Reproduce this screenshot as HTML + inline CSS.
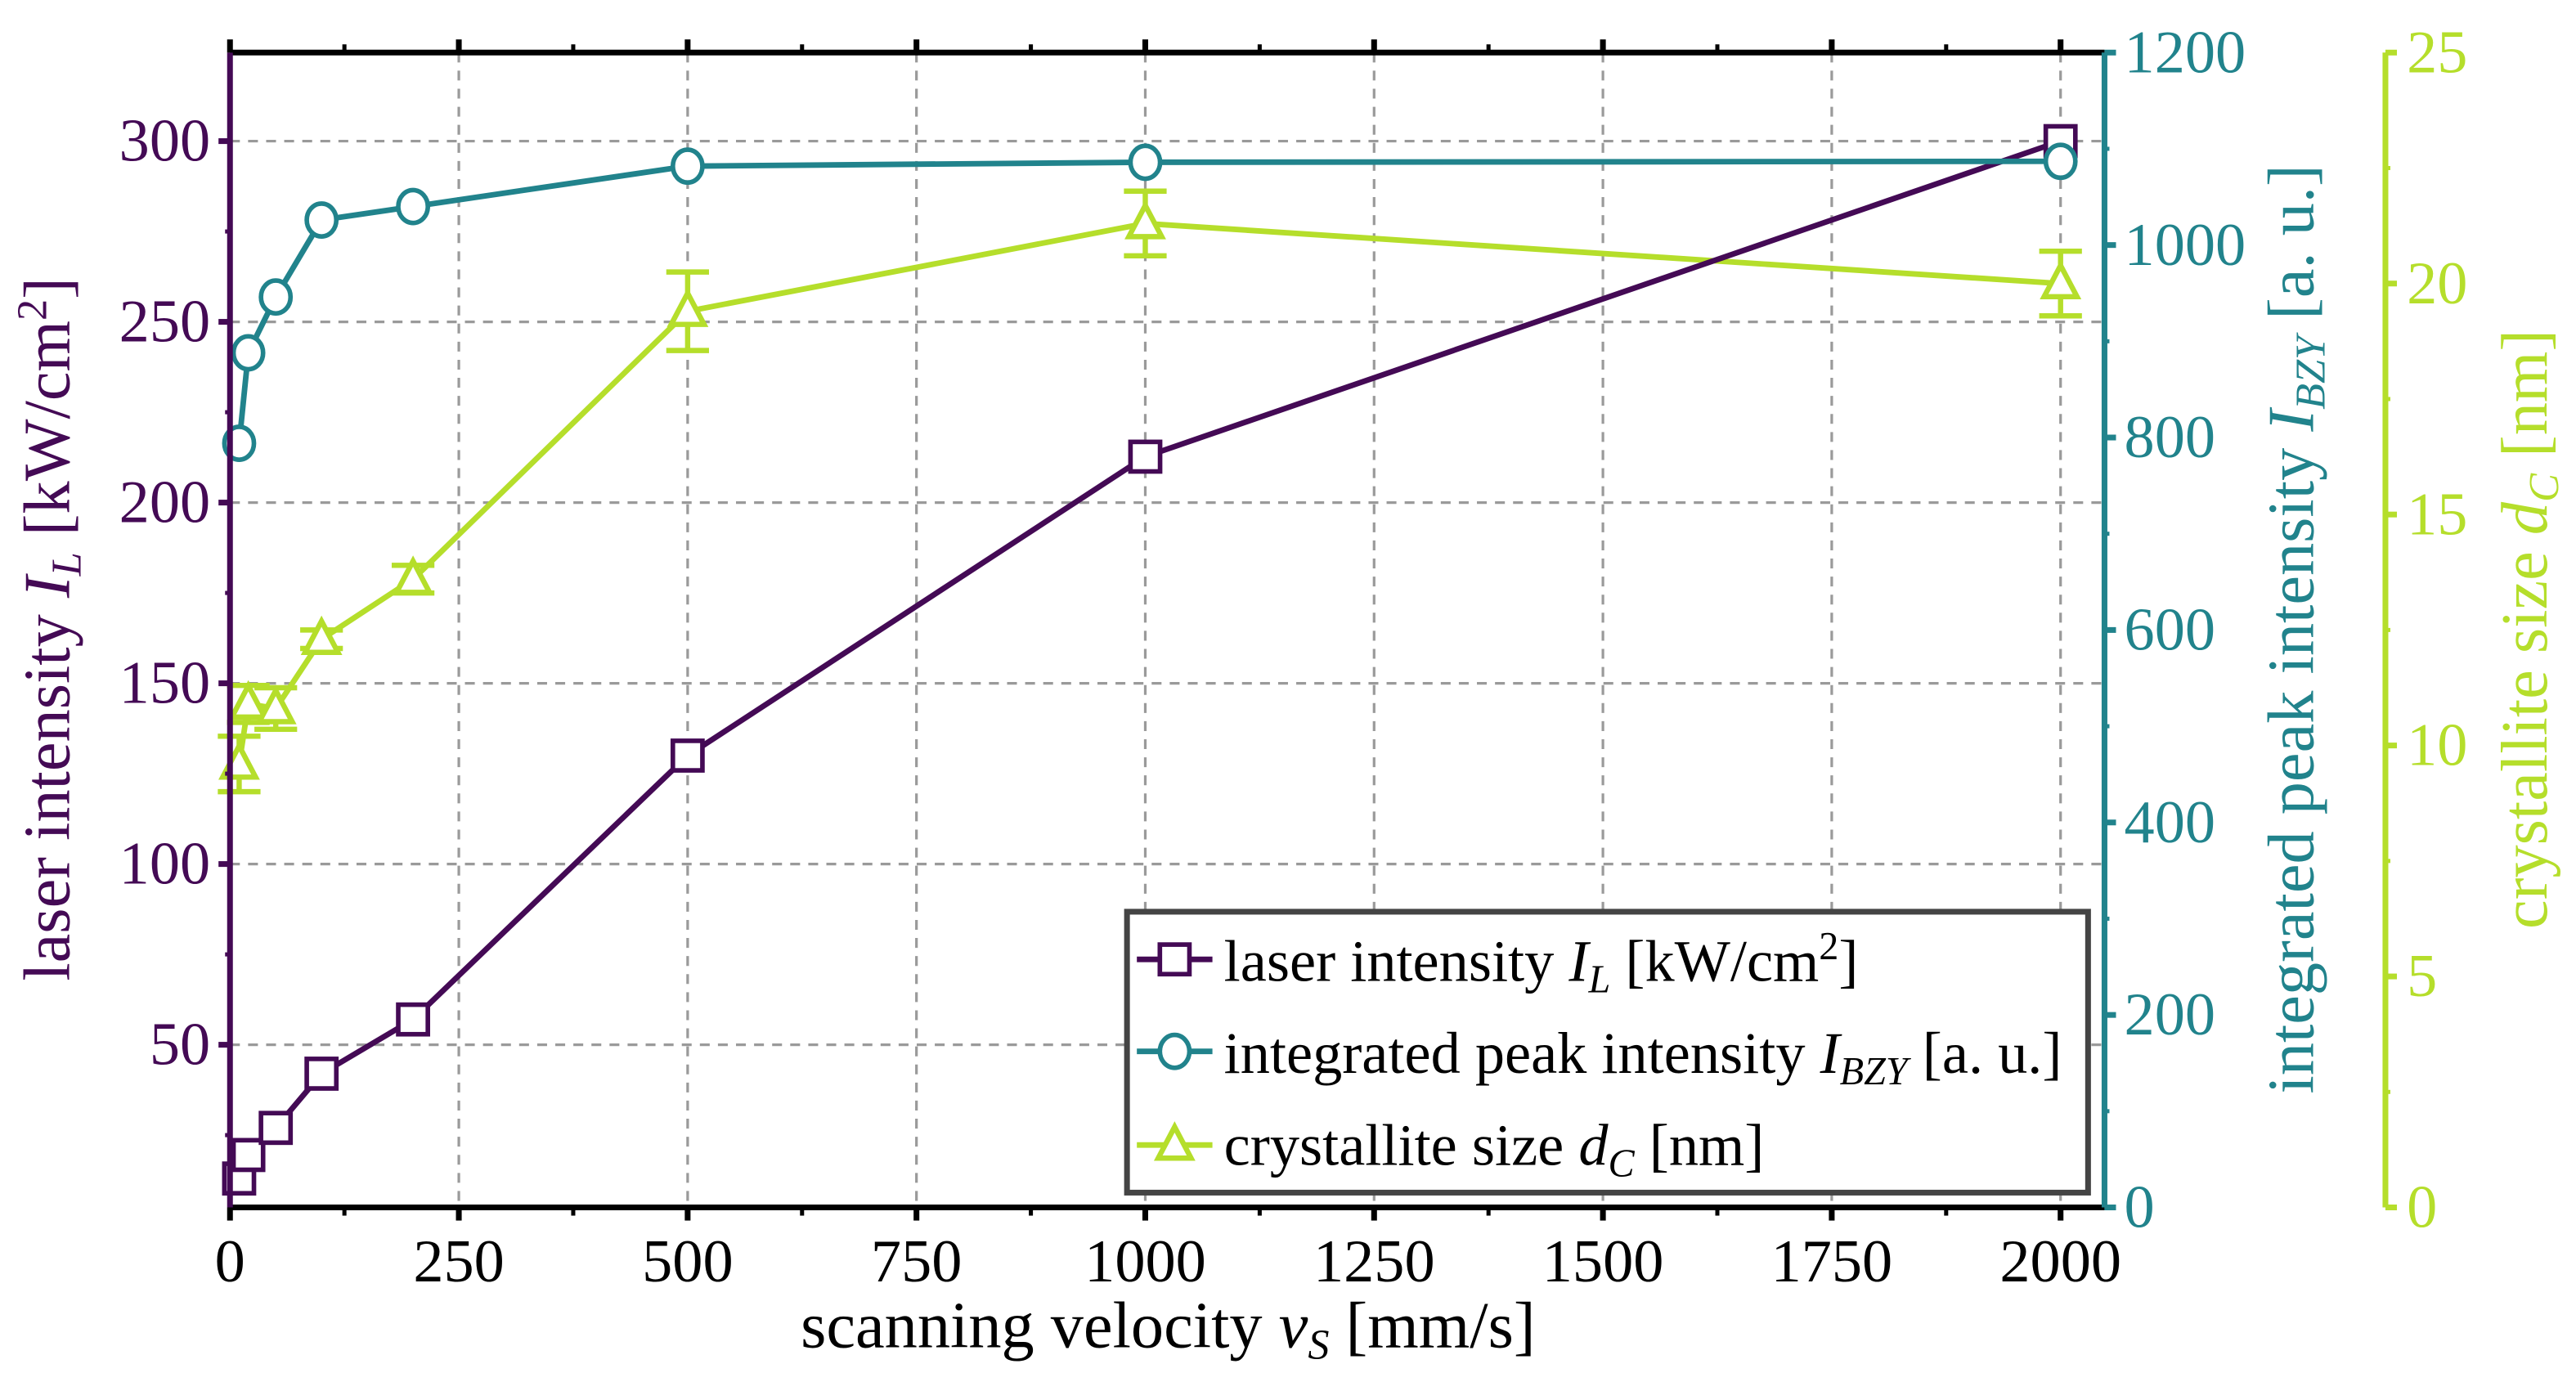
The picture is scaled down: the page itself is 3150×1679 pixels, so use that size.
<!DOCTYPE html>
<html><head><meta charset="utf-8"><style>
html,body{margin:0;padding:0;background:#fff;}
svg{display:block;}
text{font-family:"Liberation Serif",serif;}
</style></head><body>
<svg id="chart" width="3150" height="1679" viewBox="0 0 1568 835.8" preserveAspectRatio="none" xmlns="http://www.w3.org/2000/svg">
<g id="grid"></g>
<g id="series"></g>
<g id="axes"></g>
</svg>
<script>
const velocities=[10,20,50,100,200,500,1000,2000];
const laserIntensity=[13,19.5,27,42,57,130,212.7,300];
const peakIntensity=[794,888,946,1026,1040,1082,1086,1087];
const crystalliteSize=[9.6,10.9,10.8,12.3,13.6,19.4,21.3,20.0];
const crystalliteErr=[0.6,0.4,0.45,0.2,0.3,0.85,0.7,0.7];
const xTicks=[0,250,500,750,1000,1250,1500,1750,2000];
const leftTicks=[50,100,150,200,250,300];
const tealTicks=[0,200,400,600,800,1000,1200];
const greenTicks=[0,5,10,15,20,25];

const PURPLE="#440a55",TEAL="#21838c",GREEN="#b5de2b";
const L=140,R=1281,T=32,B=735,GX=1452;
const sx=v=>L+(v-0)/(2048)*(R-L);
const syL=v=>B-(v-5)/(324.5-5)*(B-T);
const syT=v=>B-v/1200*(B-T);
const syG=v=>B-v/25*(B-T);
const NS="http://www.w3.org/2000/svg";
function mk(tag,attrs,parent,txt){const e=document.createElementNS(NS,tag);for(const k in attrs)e.setAttribute(k,attrs[k]);if(txt!==undefined)e.textContent=txt;parent.appendChild(e);return e;}
const grid=document.getElementById('grid'),series=document.getElementById('series'),axes=document.getElementById('axes');
const FS=37;

xTicks.forEach(v=>{if(v===0)return;const g=mk('line',{x1:sx(v),x2:sx(v),y1:T,y2:B,stroke:'#9a9a9a','stroke-width':1.6,'stroke-dasharray':'6,5'},grid);

});
leftTicks.forEach(v=>{const g=mk('line',{x1:L,x2:R,y1:syL(v),y2:syL(v),stroke:'#9a9a9a','stroke-width':1.6,'stroke-dasharray':'6,5'},grid);

});

function poly(ys,fy,color,name){const pts=velocities.map((v,i)=>sx(v)+','+fy(ys[i])).join(' ');const p=mk('polyline',{points:pts,fill:'none',stroke:color,'stroke-width':3.4},series);

}
poly(crystalliteSize,syG,GREEN,'crystallite-line');
poly(laserIntensity,syL,PURPLE,'laser-line');
poly(peakIntensity,syT,TEAL,'peak-line');
velocities.forEach((v,i)=>{const x=sx(v),y=syG(crystalliteSize[i]),e=crystalliteErr[i];
const y1=syG(crystalliteSize[i]+e),y2=syG(crystalliteSize[i]-e);
const g=mk('g',{stroke:GREEN,'stroke-width':3.2,fill:'none'},series);


mk('line',{x1:x,x2:x,y1:y1,y2:y2},g);mk('line',{x1:x-13,x2:x+13,y1:y1,y2:y1},g);mk('line',{x1:x-13,x2:x+13,y1:y2,y2:y2},g);
mk('polygon',{points:`${x},${y-11} ${x+10},${y+8} ${x-10},${y+8}`,fill:'#fff'},g);});
velocities.forEach((v,i)=>{const x=sx(v),y=syL(laserIntensity[i]);const r=mk('rect',{x:x-9,y:y-9,width:18,height:18,fill:'#fff',stroke:PURPLE,'stroke-width':2.8},series);

});
velocities.forEach((v,i)=>{const x=sx(v),y=syT(peakIntensity[i]);const c=mk('ellipse',{cx:x,cy:y,rx:9,ry:10,fill:'#fff',stroke:TEAL,'stroke-width':2.8},series);

});

function ln(x1,y1,x2,y2,c,w,p){return mk('line',{x1,y1,x2,y2,stroke:c,'stroke-width':w},p||axes);}
ln(L,T,R,T,'#000',3.5);ln(L,B,R,B,'#000',3.5);
ln(L,T,L,B,PURPLE,3.5);ln(R,T,R,B,TEAL,3.5);ln(GX,T,GX,B,GREEN,3.5);
xTicks.forEach(v=>{ln(sx(v),B,sx(v),B+8,'#000',3.5);ln(sx(v),T,sx(v),T-8,'#000',3.5);
const t=mk('text',{x:sx(v),y:780,'font-size':FS,'text-anchor':'middle',fill:'#000'},axes,String(v));

});
xTicks.forEach(v=>{const m=v+125;if(m<2048){ln(sx(m),B,sx(m),B+5,'#000',2.5);ln(sx(m),T,sx(m),T-5,'#000',2.5);}});
leftTicks.forEach(v=>{ln(L-7,syL(v),L,syL(v),PURPLE,3.5);ln(L-3,syL(v-25),L,syL(v-25),PURPLE,2.5);
const t=mk('text',{x:128,y:syL(v)+12,'font-size':FS,'text-anchor':'end',fill:PURPLE},axes,String(v));

});
tealTicks.forEach(v=>{ln(R,syT(v),R+7,syT(v),TEAL,3.5);if(v<1200)ln(R,syT(v+100),R+3,syT(v+100),TEAL,2.5);
const t=mk('text',{x:1293,y:syT(v)+12,'font-size':FS,fill:TEAL},axes,String(v));

});
greenTicks.forEach(v=>{ln(GX,syG(v),GX+7,syG(v),GREEN,3.5);if(v<25)ln(GX,syG(v+2.5),GX+3,syG(v+2.5),GREEN,2.5);
const t=mk('text',{x:1465,y:syG(v)+12,'font-size':FS,fill:GREEN},axes,String(v));

});
</script>
<svg style="position:absolute;left:0;top:0" width="3150" height="1679" viewBox="0 0 1568 835.8" preserveAspectRatio="none" xmlns="http://www.w3.org/2000/svg">
<text x="711" y="820" font-size="40" text-anchor="middle" fill="#000" font-family="Liberation Serif, serif">scanning velocity <tspan font-style="italic">v</tspan><tspan font-style="italic" font-size="26" dy="7">S</tspan><tspan dy="-7"> [mm/s]</tspan></text>
<text transform="translate(42,383) rotate(-90)" font-size="40" text-anchor="middle" fill="#440a55" font-family="Liberation Serif, serif">laser intensity <tspan font-style="italic">I</tspan><tspan font-style="italic" font-size="26" dy="7">L</tspan><tspan dy="-7"> [kW/cm</tspan><tspan font-size="26" dy="-14">2</tspan><tspan dy="14">]</tspan></text>
<text transform="translate(1408,383) rotate(-90)" font-size="40" text-anchor="middle" fill="#21838c" font-family="Liberation Serif, serif">integrated peak intensity <tspan font-style="italic">I</tspan><tspan font-style="italic" font-size="26" dy="7">BZY</tspan><tspan dy="-7"> [a. u.]</tspan></text>
<text transform="translate(1550,383) rotate(-90)" font-size="40" text-anchor="middle" fill="#b5de2b" font-family="Liberation Serif, serif">crystallite size <tspan font-style="italic">d</tspan><tspan font-style="italic" font-size="26" dy="7">C</tspan><tspan dy="-7"> [nm]</tspan></text>
<g>
<rect x="686" y="555" width="585" height="171" fill="#fff" stroke="#444" stroke-width="3.5"/>
<g>
<line x1="692" y1="584" x2="738" y2="584" stroke="#440a55" stroke-width="3.4"/>
<rect x="706" y="575" width="18" height="18" fill="#fff" stroke="#440a55" stroke-width="2.8"/>
<text x="745" y="597" font-size="36" fill="#000" font-family="Liberation Serif, serif">laser intensity <tspan font-style="italic">I</tspan><tspan font-style="italic" font-size="24" dy="7">L</tspan><tspan dy="-7"> [kW/cm</tspan><tspan font-size="24" dy="-13">2</tspan><tspan dy="13">]</tspan></text>
</g>
<g>
<line x1="692" y1="640" x2="738" y2="640" stroke="#21838c" stroke-width="3.4"/>
<ellipse cx="715" cy="640" rx="9" ry="10" fill="#fff" stroke="#21838c" stroke-width="2.8"/>
<text x="745" y="653" font-size="36" fill="#000" font-family="Liberation Serif, serif">integrated peak intensity <tspan font-style="italic">I</tspan><tspan font-style="italic" font-size="24" dy="7">BZY</tspan><tspan dy="-7"> [a. u.]</tspan></text>
</g>
<g>
<line x1="692" y1="697" x2="738" y2="697" stroke="#b5de2b" stroke-width="3.4"/>
<polygon points="715,686 725,705 705,705" fill="#fff" stroke="#b5de2b" stroke-width="3.2"/>
<text x="745" y="709" font-size="36" fill="#000" font-family="Liberation Serif, serif">crystallite size <tspan font-style="italic">d</tspan><tspan font-style="italic" font-size="24" dy="7">C</tspan><tspan dy="-7"> [nm]</tspan></text>
</g>
</g>
</svg>
</body></html>
